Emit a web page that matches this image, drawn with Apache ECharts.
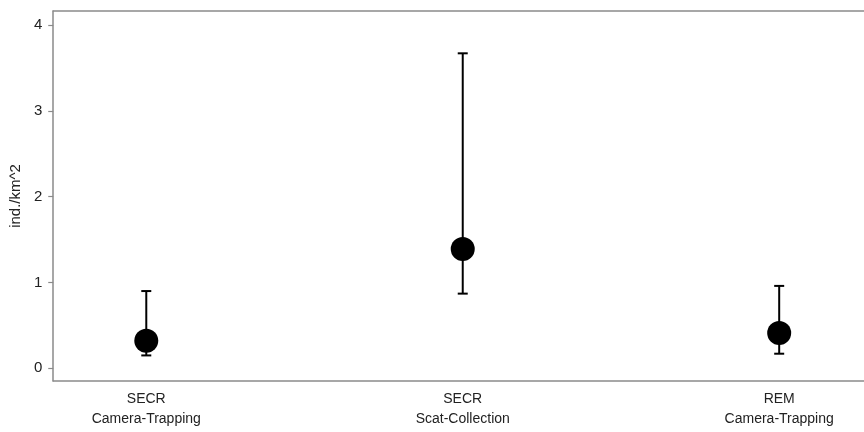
<!DOCTYPE html>
<html>
<head>
<meta charset="utf-8">
<script src="https://cdn.jsdelivr.net/npm/echarts@6/dist/echarts.min.js"></script>
<style>
  html, body { margin: 0; padding: 0; background: #fff; }
  #chart { width: 864px; height: 432px; }
</style>
</head>
<body>
<div id="chart"></div>
<script>
// Density estimates (individuals per km^2) with confidence limits, by method
const methods = ['SECR\nCamera-Trapping', 'SECR\nScat-Collection', 'REM\nCamera-Trapping'];
const estimate = [0.32, 1.39, 0.41];
const lower = [0.15, 0.87, 0.17];
const upper = [0.90, 3.67, 0.96];
const yTicks = [0, 1, 2, 3, 4];

const positions = methods.map((_, i) => i + 1);
const pointData = positions.map((p, i) => [p, estimate[i]]);
const barData = positions.map((p, i) => [p, lower[i], upper[i]]);

const chart = echarts.init(document.getElementById('chart'), null, { renderer: 'canvas' });

const frameColor = '#8a8a8a';
const textColor = '#222';
const fontFamily = 'Liberation Sans, Arial, sans-serif';
const frameLine = { show: true, onZero: false, lineStyle: { color: frameColor, width: 1.5 } };

chart.setOption({
  animation: false,
  backgroundColor: '#fff',
  grid: { left: 52, right: 0, top: 11, bottom: 51 },
  xAxis: [
    {
      type: 'value',
      min: 0.706, max: 3.268,
      position: 'bottom',
      axisLine: frameLine,
      splitLine: { show: false },
      axisTick: { show: false },
      axisLabel: {
        customValues: positions,
        formatter: v => methods[Math.round(v) - 1] || '',
        margin: 8,
        color: textColor,
        fontFamily: fontFamily,
        fontSize: 14,
        lineHeight: 20,
        align: 'center'
      }
    },
    {
      type: 'value',
      min: 0.706, max: 3.268,
      position: 'top',
      axisLine: frameLine,
      splitLine: { show: false },
      axisTick: { show: false },
      axisLabel: { show: false }
    }
  ],
  yAxis: {
    type: 'value',
    min: -0.148, max: 4.163,
    name: 'ind./km^2',
    nameLocation: 'middle',
    nameRotate: 90,
    nameGap: 26,
    nameTextStyle: { color: textColor, fontFamily: fontFamily, fontSize: 15 },
    axisLine: frameLine,
    splitLine: { show: false },
    axisTick: {
      show: true, customValues: yTicks, length: 5,
      lineStyle: { color: frameColor, width: 1.2 }
    },
    axisLabel: {
      customValues: yTicks,
      margin: 11,
      color: textColor,
      fontFamily: fontFamily,
      fontSize: 15
    }
  },
  series: [
    {
      type: 'custom',
      data: barData,
      z: 2,
      renderItem: function (params, api) {
        const x = api.value(0);
        const lo = api.coord([x, api.value(1)]);
        const hi = api.coord([x, api.value(2)]);
        const cap = 5;
        const style = { stroke: '#000', lineWidth: 2 };
        return {
          type: 'group',
          children: [
            { type: 'line', shape: { x1: lo[0], y1: lo[1], x2: hi[0], y2: hi[1] }, style },
            { type: 'line', shape: { x1: hi[0] - cap, y1: hi[1], x2: hi[0] + cap, y2: hi[1] }, style },
            { type: 'line', shape: { x1: lo[0] - cap, y1: lo[1], x2: lo[0] + cap, y2: lo[1] }, style }
          ]
        };
      }
    },
    {
      type: 'scatter',
      data: pointData,
      symbol: 'circle',
      symbolSize: 24,
      z: 3,
      itemStyle: { color: '#000', opacity: 1 }
    }
  ]
});
</script>
</body>
</html>
